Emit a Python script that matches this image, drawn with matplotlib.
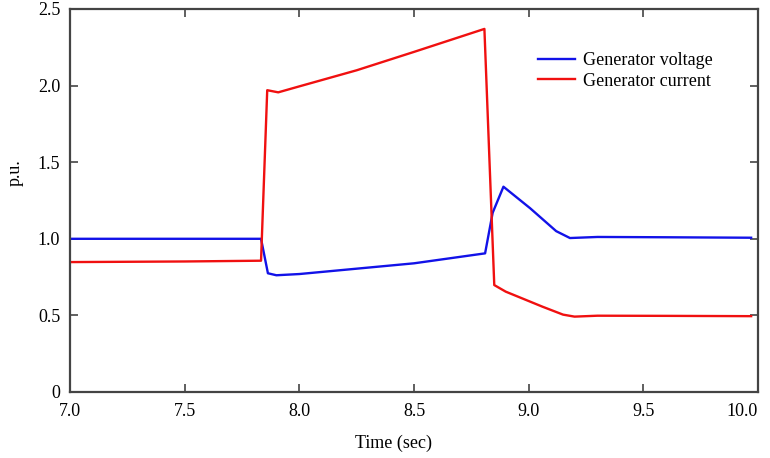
import matplotlib
matplotlib.use("Agg")
import matplotlib.pyplot as plt

plt.rcParams['font.family'] = ['Liberation Serif', 'DejaVu Serif']

# generator voltage (p.u.)
t_volt = [7.0, 7.5, 7.833, 7.863, 7.9, 8.0, 8.25, 8.5, 8.81, 8.843, 8.89,
          9.006, 9.12, 9.18, 9.3, 9.6, 9.97]
volt = [1.0, 1.0, 1.0, 0.775, 0.762, 0.77, 0.805, 0.84, 0.905, 1.17, 1.34,
        1.2, 1.05, 1.005, 1.012, 1.01, 1.007]

# generator current (p.u.)
t_curr = [7.0, 7.5, 7.833, 7.86, 7.908, 8.0, 8.25, 8.5, 8.807, 8.85, 8.9,
          9.06, 9.15, 9.2, 9.3, 9.6, 9.97]
curr = [0.848, 0.852, 0.857, 1.97, 1.956, 1.995, 2.1, 2.22, 2.37, 0.698, 0.655,
        0.557, 0.505, 0.492, 0.498, 0.497, 0.495]

xticks = [7.0, 7.5, 8.0, 8.5, 9.0, 9.5, 10.0]
xlabels = ['7.0', '7.5', '8.0', '8.5', '9.0', '9.5', '10.0']
yticks = [0, 0.5, 1.0, 1.5, 2.0, 2.5]
ylabels = ['0', '0.5', '1.0', '1.5', '2.0', '2.5']

fig = plt.figure(figsize=(7.7, 4.58), dpi=100)
ax = fig.add_axes([70/770, 1-392/458, 688/770, 383/458])

ax.plot(t_volt, volt, color='#1212e8', lw=1.7, label='Generator voltage')
ax.plot(t_curr, curr, color='#f01010', lw=1.7, label='Generator current')

ax.set_xlim(7.0, 10.0)
ax.set_ylim(0, 2.5)
ax.set_xticks(xticks)
ax.set_xticklabels(xlabels)
ax.set_yticks(yticks)
ax.set_yticklabels(ylabels)
ax.tick_params(direction='in', length=6, width=1.2, color='#444444',
               top=True, right=True, labelsize=13)
ax.tick_params(axis='x', pad=8)
ax.tick_params(axis='y', pad=7)
# last x label sits flush with the right edge
ax.get_xticklabels()[-1].set_horizontalalignment('right')
for s in ax.spines.values():
    s.set_linewidth(1.6)
    s.set_color('#444444')

ax.set_xlabel('Time (sec)', fontsize=13)
ax.xaxis.set_label_coords((393.5-70)/688, -(443-392)/383)
ax.xaxis.label.set_va('center')
ax.set_ylabel('p.u.', fontsize=13)
ax.yaxis.set_label_coords(-(70-15)/688, (392-173)/383)
ax.yaxis.label.set_va('center')

leg = ax.legend(loc='upper left', bbox_to_anchor=(538/770, 1-52/458),
                bbox_transform=fig.transFigure, frameon=False,
                fontsize=13, handlelength=2.05, handletextpad=0.45,
                labelspacing=0.2, borderpad=0, borderaxespad=0)

plt.savefig('out.png')
plt.close()
